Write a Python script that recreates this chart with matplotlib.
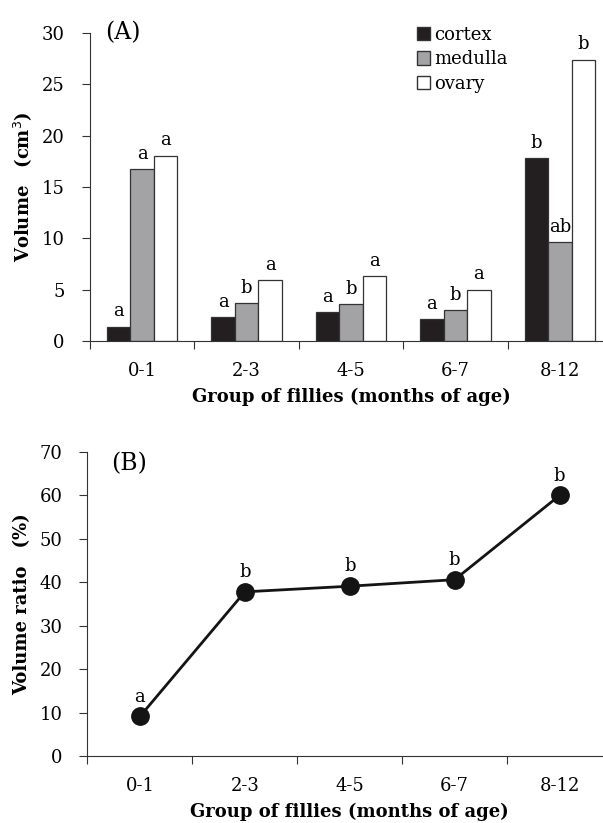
import matplotlib
matplotlib.use("Agg")
import matplotlib.pyplot as plt
import numpy as np
from matplotlib.patches import Patch

plt.rcParams['font.family'] = ['DejaVu Serif']

groups = ["0-1", "2-3", "4-5", "6-7", "8-12"]
cortex = [1.4, 2.3, 2.8, 2.1, 17.8]
medulla = [16.7, 3.7, 3.6, 3.0, 9.6]
ovary = [18.05, 5.9, 6.35, 5.0, 27.4]
cortex_sig = ["a", "a", "a", "a", "b"]
medulla_sig = ["a", "b", "b", "b", "ab"]
ovary_sig = ["a", "a", "a", "a", "b"]

ratio = [9.1, 37.8, 39.1, 40.6, 60.0]
ratio_sig = ["a", "b", "b", "b", "b"]

fig = plt.figure(figsize=(6.03, 8.23), dpi=100)
axA = fig.add_axes([0.149, 0.5857, 0.866, 0.3743])
axB = fig.add_axes([0.145, 0.0814, 0.870, 0.3694])

x = np.arange(len(groups))
w = 0.225
series = [
    (cortex, cortex_sig, "#231f20", "cortex", -w),
    (medulla, medulla_sig, "#a3a3a6", "medulla", 0),
    (ovary, ovary_sig, "white", "ovary", w),
]
for vals, sig, col, name, off in series:
    axA.bar(x + off, vals, width=w, color=col, edgecolor="#333333", linewidth=0.9)
    for xi, v, s in zip(x + off, vals, sig):
        axA.text(xi, v + 0.6, s, ha="center", va="bottom", fontsize=13)

axA.set_xlim(-0.5, 4.5)
axA.set_ylim(0, 30)
axA.set_yticks(range(0, 31, 5))
axA.set_ylabel("Volume\u2003(cm$^3$)", fontsize=13, fontweight="bold", labelpad=6)
axA.set_xlabel("Group of fillies (months of age)", fontsize=13, fontweight="bold", labelpad=6)
axA.text(0.03, 1.0, "(A)", transform=axA.transAxes, fontsize=17, va="center", ha="left")

handles = [Patch(facecolor=c, edgecolor="#333333", label=n) for _, _, c, n, _ in series]
axA.legend(handles=handles, loc="upper left", bbox_to_anchor=(0.595, 1.075), frameon=False,
           fontsize=13, handlelength=0.75, handleheight=0.75, handletextpad=0.2, labelspacing=0.35)

axB.plot(x, ratio, color="#141414", linewidth=2, marker="o", markersize=12.5)
for xi, v, s in zip(x, ratio, ratio_sig):
    axB.text(xi, v + 2.5, s, ha="center", va="bottom", fontsize=13)
axB.set_xlim(-0.5, 4.5)
axB.set_ylim(0, 70)
axB.set_yticks(range(0, 71, 10))
axB.set_ylabel("Volume ratio\u2003(%)", fontsize=13, fontweight="bold", labelpad=6)
axB.set_xlabel("Group of fillies (months of age)", fontsize=13, fontweight="bold", labelpad=6)
axB.text(0.045, 0.96, "(B)", transform=axB.transAxes, fontsize=17, va="center", ha="left")

for ax in (axA, axB):
    ax.spines["top"].set_visible(False)
    ax.spines["right"].set_visible(False)
    ax.spines["left"].set_color("#333333")
    ax.spines["bottom"].set_color("#333333")
    ax.set_xticks(np.arange(-0.5, 4.6, 1.0))
    ax.set_xticklabels([])
    ax.set_xticks(x, minor=True)
    ax.set_xticklabels(groups, minor=True, fontsize=13)
    ax.tick_params(axis="x", which="minor", length=0, pad=15)
    ax.tick_params(axis="x", which="major", length=6, direction="out", color="#333333")
    ax.tick_params(axis="y", length=6, direction="out", labelsize=13, color="#333333", pad=12)

fig.savefig("out.png", dpi=100)
